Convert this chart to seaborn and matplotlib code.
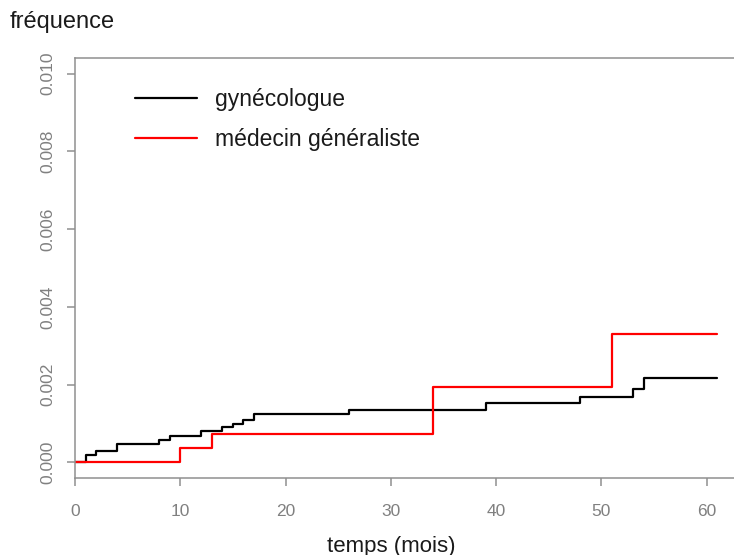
import matplotlib
matplotlib.use("Agg")
import matplotlib.pyplot as plt
import pandas as pd
import seaborn as sns

# Cumulative frequency step curves, by prescriber type
gyneco_mois = [0, 1, 2, 4, 8, 9, 12, 14, 15, 16, 17, 26, 39, 48, 53, 54, 61]
gyneco_freq = [0.0, 0.00018, 0.00029, 0.00048, 0.00057, 0.00067, 0.00081,
               0.00091, 0.00100, 0.00108, 0.00125, 0.00136, 0.00153,
               0.00168, 0.00190, 0.00216, 0.00216]
medecin_mois = [0, 10, 13, 34, 51, 61]
medecin_freq = [0.0, 0.00037, 0.00074, 0.00193, 0.00330, 0.00330]

groupes = ["gynécologue", "médecin généraliste"]
couleurs = ["#000000", "#ff0000"]

x_ticks = [0, 10, 20, 30, 40, 50, 60]
y_ticks = [0.000, 0.002, 0.004, 0.006, 0.008, 0.010]
y_tick_labels = ["0.000", "0.002", "0.004", "0.006", "0.008", "0.010"]

df = pd.concat([
    pd.DataFrame({"mois": gyneco_mois, "freq": gyneco_freq, "groupe": groupes[0]}),
    pd.DataFrame({"mois": medecin_mois, "freq": medecin_freq, "groupe": groupes[1]}),
], ignore_index=True)

sns.set_style("white")
plt.rcParams["font.family"] = ["Liberation Sans", "DejaVu Sans"]

W, H = 734, 555
fig = plt.figure(figsize=(W / 100, H / 100), dpi=100)
left, right, top, bottom = 75, 743, 58, 478
ax = fig.add_axes([left / W, (H - bottom) / H, (right - left) / W, (bottom - top) / H])

sns.lineplot(data=df, x="mois", y="freq", hue="groupe",
             palette=dict(zip(groupes, couleurs)), drawstyle="steps-post",
             estimator=None, sort=False, linewidth=1.6, ax=ax, legend=True)

ax.set_xlim(0, 63.45)
ax.set_ylim(-0.0004, 0.0104)
ax.set_xticks(x_ticks)
ax.set_xticklabels([str(t) for t in x_ticks])
ax.set_yticks(y_ticks)
ax.set_yticklabels(y_tick_labels, rotation=90, va="center")

spine_col = "#8f8f8f"
for name, s in ax.spines.items():
    s.set_color(spine_col)
    s.set_linewidth(1.1)
    s.set_visible(name != "right")
ax.tick_params(axis="both", direction="out", length=5.8, width=1.1,
               color=spine_col, labelcolor="#808080", labelsize=12.5,
               bottom=True, left=True, top=False, right=False)
ax.tick_params(axis="x", pad=13)
ax.tick_params(axis="y", pad=8)

ax.set_xlabel("temps (mois)", fontsize=16, color="#1a1a1a")
ax.xaxis.set_label_coords((391 - left) / (right - left), -0.137)
ax.set_ylabel("")
fig.text(10 / W, 1 - 22 / H, "fréquence", fontsize=17, color="#1a1a1a",
         ha="left", va="center")

h, l = ax.get_legend_handles_labels()
ax.legend(h, l, loc="upper left", bbox_to_anchor=(135 / W, 1 - 88 / H),
          bbox_transform=fig.transFigure, frameon=False, fontsize=16.5,
          handlelength=2.7, handletextpad=0.78, labelspacing=0.75,
          borderpad=0, borderaxespad=0, labelcolor="#1a1a1a")

fig.savefig("out.png", dpi=100)
